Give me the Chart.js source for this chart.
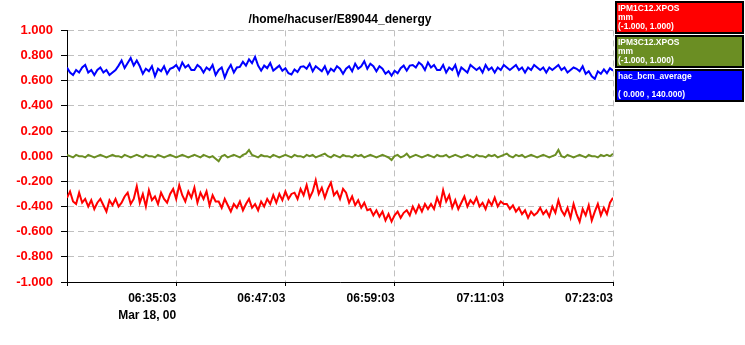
<!DOCTYPE html>
<html>
<head>
<meta charset="utf-8">
<script src="https://cdn.jsdelivr.net/npm/chart.js@4.4.1/dist/chart.umd.min.js"></script>
<style>
  body { margin: 0; background: #fff; }
  #wrap { position: relative; width: 745px; height: 345px; }
  #legend { position: absolute; left: 615px; top: 0; width: 130px; }
  .lg {
    box-sizing: border-box; width: 129px; height: 33px; margin-top: 1px;
    border: 2px solid #000; color: #fff;
    font: bold 8.5px "Liberation Sans", Arial, sans-serif; line-height: 9px;
    padding: 1px 0 0 1px; white-space: pre;
  }
</style>
</head>
<body>
<div id="wrap">
  <canvas id="chart"></canvas>
  <div id="legend"></div>
</div>
<script>
// samples every 20 s starting at 06:23:03
const sampleStep = 20;
const timeTicks = ['', '06:35:03', '06:47:03', '06:59:03', '07:11:03', '07:23:03'];
const dateLabel = 'Mar 18, 00';
const titleText = '/home/hacuser/E89044_denergy';

const seriesNames = ['IPM1C12.XPOS', 'IPM3C12.XPOS', 'hac_bcm_average'];
const seriesUnits = ['mm', 'mm', ''];
const seriesRanges = ['(-1.000, 1.000)', '(-1.000, 1.000)', '( 0.000 , 140.000)'];
const seriesColors = ['#ff0000', '#6b8e23', '#0000ff'];

const ipm1c12 = [
  -0.33, -0.28, -0.36, -0.38, -0.29,
  -0.37, -0.34, -0.40, -0.35, -0.42, -0.37, -0.34, -0.39, -0.44, -0.35, -0.39, -0.34, -0.40, -0.37, -0.32,
  -0.29, -0.38, -0.34, -0.24, -0.37, -0.30, -0.40, -0.27, -0.35, -0.32, -0.38, -0.29, -0.34, -0.37, -0.30,
  -0.26, -0.34, -0.23, -0.31, -0.36, -0.28, -0.33, -0.25, -0.37, -0.29, -0.34, -0.28, -0.39, -0.31, -0.36,
  -0.36, -0.41, -0.34, -0.39, -0.44, -0.38, -0.41, -0.36, -0.43, -0.38, -0.34, -0.41, -0.38, -0.43, -0.36,
  -0.40, -0.34, -0.38, -0.31, -0.37, -0.30, -0.35, -0.28, -0.34, -0.30,
  -0.29, -0.34, -0.26, -0.31, -0.23, -0.33, -0.28, -0.19, -0.30, -0.25, -0.33, -0.26, -0.21, -0.31, -0.28, -0.34, -0.26,
  -0.29, -0.37, -0.32, -0.39, -0.35, -0.41, -0.37, -0.43,
  -0.42, -0.47, -0.43, -0.48, -0.44, -0.51, -0.46, -0.52, -0.47, -0.44, -0.49, -0.45,
  -0.43, -0.47, -0.40, -0.45, -0.39, -0.44, -0.38, -0.42,
  -0.38, -0.42, -0.33, -0.39, -0.27, -0.36, -0.31, -0.41,
  -0.35, -0.42, -0.37, -0.32, -0.40, -0.35, -0.38, -0.33, -0.40, -0.37, -0.42, -0.35, -0.39, -0.33, -0.40, -0.36, -0.38,
  -0.38, -0.42, -0.39, -0.44, -0.41, -0.46, -0.43, -0.49, -0.44, -0.47,
  -0.45, -0.41, -0.46, -0.43, -0.48, -0.40, -0.45, -0.35, -0.43, -0.47,
  -0.41, -0.49, -0.38, -0.46, -0.52, -0.42, -0.47, -0.39, -0.51, -0.44, -0.38, -0.47, -0.41, -0.46, -0.37, -0.33
];

const ipm3c12 = [
  0.01, 0.00, -0.01, 0.01, 0.00, 0.00, -0.01, 0.01, 0.00, -0.01, 0.00, 0.01, 0.00, -0.01, 0.00, 0.01, 0.00, 0.00, -0.01, 0.01,
  0.00, -0.01, 0.00, 0.01, 0.00, -0.01, 0.01, 0.00, 0.00, -0.01, 0.01, 0.00, -0.01, 0.00, 0.01, 0.00, -0.01, 0.00, 0.01, 0.00,
  -0.01, 0.00, 0.01, 0.00, -0.01, 0.01, 0.00, -0.01, 0.00, -0.02, -0.04, 0.00, 0.01, -0.01, 0.00, 0.01, 0.00, -0.01, 0.01, 0.02,
  0.05, 0.01, 0.00, -0.01, 0.01, 0.00, 0.00, -0.01, 0.01, 0.00, -0.01, 0.00, 0.01, 0.00, -0.01, 0.01, 0.00, 0.00, -0.01, 0.01,
  0.00, 0.01, -0.01, 0.00, 0.01, 0.02, 0.00, -0.01, 0.01, 0.00, -0.01, 0.01, 0.00, 0.00, -0.01, 0.01, 0.00, 0.01, -0.01, 0.00,
  0.01, 0.00, -0.01, 0.00, 0.01, 0.00, -0.01, -0.03, 0.00, 0.01, -0.01, 0.00, 0.02, -0.01, 0.00, 0.01, 0.00, -0.01, 0.00, 0.01,
  0.00, -0.01, 0.01, 0.00, 0.00, 0.01, -0.01, 0.00, 0.01, 0.00, -0.01, 0.00, 0.01, 0.00, -0.01, 0.01, 0.00, 0.00, -0.01, 0.01,
  0.00, 0.01, -0.01, 0.00, 0.01, 0.02, 0.00, -0.01, 0.01, 0.00, 0.01, -0.01, 0.00, 0.01, 0.00, -0.01, 0.00, 0.01, 0.00, -0.01,
  0.00, 0.01, 0.05, 0.00, -0.01, 0.01, 0.00, -0.01, 0.00, 0.01, 0.00, -0.01, 0.01, 0.00, 0.00, -0.01, 0.01, 0.00, 0.01, 0.00, 0.02
];

// beam current average, already scaled to the plot range
const bcmAverage = [
  0.705, 0.665, 0.645, 0.685, 0.665, 0.705, 0.725, 0.665, 0.685, 0.645, 0.685, 0.705, 0.665, 0.685, 0.645, 0.665, 0.685,
  0.72, 0.76, 0.70, 0.74, 0.78, 0.72, 0.76,
  0.715, 0.655, 0.695, 0.675, 0.715, 0.635, 0.695, 0.675, 0.715, 0.655, 0.695,
  0.705, 0.725, 0.685, 0.745, 0.705, 0.725, 0.685,
  0.685, 0.725, 0.705, 0.665, 0.705, 0.685, 0.725, 0.645, 0.685, 0.705, 0.625, 0.685, 0.725, 0.665, 0.705,
  0.71, 0.75, 0.72, 0.77, 0.74, 0.79,
  0.72, 0.68, 0.72, 0.70, 0.74, 0.68, 0.70, 0.72, 0.68, 0.70, 0.66,
  0.65, 0.69, 0.67, 0.71,
  0.715, 0.695, 0.735, 0.675, 0.715, 0.695, 0.675, 0.715, 0.655, 0.695, 0.675, 0.715, 0.695, 0.655, 0.695,
  0.715, 0.675, 0.735, 0.695, 0.715, 0.755, 0.695, 0.735, 0.715, 0.675, 0.715, 0.695, 0.655, 0.675,
  0.64, 0.68, 0.66, 0.70, 0.72, 0.68, 0.72,
  0.725, 0.705, 0.745, 0.725, 0.685, 0.745, 0.705, 0.725, 0.685,
  0.685, 0.725, 0.665, 0.705, 0.685, 0.725, 0.645, 0.705, 0.685, 0.665, 0.725, 0.705,
  0.685, 0.705, 0.665, 0.725, 0.685, 0.705, 0.665, 0.705, 0.685, 0.725, 0.705,
  0.685, 0.705, 0.725, 0.685, 0.705, 0.665, 0.705, 0.685, 0.725, 0.705, 0.685,
  0.705, 0.665, 0.705, 0.685, 0.705, 0.725, 0.685, 0.705, 0.665, 0.685, 0.705,
  0.695, 0.675, 0.715, 0.655, 0.675, 0.635, 0.615, 0.675, 0.655,
  0.69, 0.66, 0.70, 0.68
];

const FONT = '"Liberation Sans", Arial, sans-serif';

function toPoints(values) {
  return values.map((v, i) => ({ x: i * sampleStep, y: v }));
}

// legend boxes on the right
const legend = document.getElementById('legend');
seriesNames.forEach((name, i) => {
  const box = document.createElement('div');
  box.className = 'lg';
  box.style.background = seriesColors[i];
  box.textContent = name + '\n' + seriesUnits[i] + '\n' + seriesRanges[i];
  legend.appendChild(box);
});

const allSeries = [ipm1c12, ipm3c12, bcmAverage];

new Chart(document.getElementById('chart'), {
  type: 'line',
  data: {
    datasets: allSeries.map((vals, i) => ({
      label: seriesNames[i],
      data: toPoints(vals),
      borderColor: seriesColors[i],
      borderWidth: 2,
      pointRadius: 0,
      tension: 0,
      fill: false
    }))
  },
  options: {
    responsive: true,
    maintainAspectRatio: false,
    animation: false,
    layout: { padding: { right: 132 } },
    font: { family: FONT },
    plugins: {
      legend: { display: false },
      tooltip: { enabled: false },
      title: {
        display: true,
        text: titleText,
        fullSize: false,
        color: '#000',
        font: { family: FONT, size: 12, weight: 'bold', lineHeight: 1.2 },
        padding: { top: 12, bottom: 4 }
      }
    },
    scales: {
      x: {
        type: 'linear',
        min: 0,
        max: 3600,
        afterFit: s => { s.height = 63; },
        border: { display: true, color: '#000', width: 1, dash: [6, 4] },
        grid: {
          color: '#c0c0c0',
          tickColor: '#000',
          tickBorderDash: [],
          tickLength: 4
        },
        ticks: {
          stepSize: 720,
          autoSkip: false,
          maxRotation: 0,
          align: 'end',
          padding: 4,
          color: '#000',
          font: { family: FONT, size: 12, weight: 'bold', lineHeight: 1.4 },
          callback: (v, i) => (i === 1 ? [timeTicks[i], dateLabel] : timeTicks[i])
        }
      },
      y: {
        min: -1,
        max: 1,
        afterFit: s => { s.width = 67; },
        border: { display: true, color: '#000', width: 1, dash: [6, 4] },
        grid: {
          color: '#c0c0c0',
          tickColor: '#000',
          tickBorderDash: [],
          tickLength: 6
        },
        ticks: {
          stepSize: 0.2,
          padding: 8,
          color: '#ff0000',
          font: { family: FONT, size: 13, weight: 'bold' },
          callback: v => v.toFixed(3)
        }
      }
    }
  }
});
</script>
</body>
</html>
